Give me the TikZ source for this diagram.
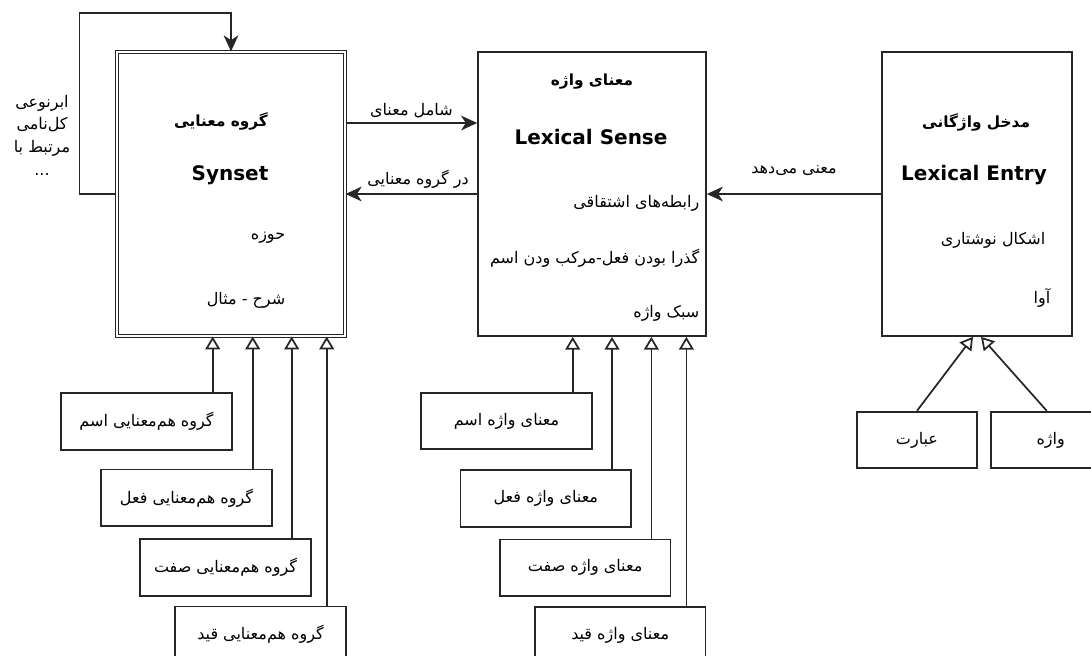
\documentclass[tikz,border=0pt]{standalone}
\usepackage{fontspec}
\setmainfont{DejaVu Sans}
\newfontfamily\fa[Script=Arabic]{DejaVu Sans}
\TeXXeTstate=1
\usetikzlibrary{arrows.meta, positioning}
\newcommand{\fatxt}[1]{{\fa\beginR #1\endR}}
\tikzstyle{entity} = [rectangle, draw=black!85, line width=1.3pt, minimum width=171pt, minimum height=213pt]
\tikzstyle{kind} = [rectangle, draw=black!85, line width=1.3pt, minimum width=128pt, minimum height=42.5pt, font=\fontsize{12}{14}\selectfont]
\tikzstyle{title} = [font=\fontsize{15}{18}\selectfont\bfseries]
\tikzstyle{fatitle} = [font=\fontsize{11.5}{14}\selectfont\bfseries]
\tikzstyle{attr} = [font=\fontsize{12}{14}\selectfont]
\tikzstyle{arrow} = [line width=1.3pt, draw=black!85, -{Stealth[length=12pt,width=11pt,inset=3.5pt]}]
\tikzstyle{inherit} = [line width=1.3pt, draw=black!85, -{Triangle[open,length=9.5pt,width=11pt]}]

\begin{document}
\begin{tikzpicture}[x=0.75pt, y=-0.75pt]
    \clip (0,0) rectangle (1091,656);
    % main classes
    \node (synset) [entity, double, double distance=1pt, line width=0.9pt] at (231,194) {};
    \node (sense) [entity] at (592,194) {};
    \node (entry) [entity, minimum width=142.5pt] at (977,194) {};

    \node (synsetfa) [fatitle] at (221,121) {\fatxt{گروه معنایی}};
    \node (synseten) [title] at (230,175) {Synset};
    \node (domain) [attr] at (268,238) {\fatxt{حوزه}};
    \node (gloss) [attr] at (246,300) {\fatxt{شرح - مثال}};

    \node (sensefa) [fatitle] at (592,82) {\fatxt{معنای واژه}};
    \node (senseen) [title] at (591,137) {Lexical Sense};
    \node (deriv) [attr, anchor=east] at (704,203) {\fatxt{رابطه‌های اشتقاقی}};
    \node (trans) [attr, anchor=east] at (704,258) {\fatxt{گذرا بودن فعل-مرکب ودن اسم}};
    \node (register) [attr, anchor=east] at (704,313) {\fatxt{سبک واژه}};

    \node (entryfa) [fatitle] at (976,122) {\fatxt{مدخل واژگانی}};
    \node (entryen) [title] at (974,175) {Lexical Entry};
    \node (forms) [attr] at (993,240) {\fatxt{اشکال نوشتاری}};
    \node (phon) [attr] at (1042,298) {\fatxt{آوا}};

    \node (loopnote) [attr, align=center, font=\fontsize{12}{17}\selectfont] at (42,135) {\fatxt{ابرنوعی}\\ \fatxt{کل‌نامی}\\ \fatxt{مرتبط با}\\ ...};
    \coordinate (looptop) at (231,13);

    % synset kinds
    \node (snoun) [kind] at (146.5,421.5) {\fatxt{گروه هم‌معنایی اسم}};
    \node (sverb) [kind, below=13.5pt of snoun, xshift=30pt] {\fatxt{گروه هم‌معنایی فعل}};
    \node (sadj) [kind, below=8.25pt of sverb, xshift=29.25pt] {\fatxt{گروه هم‌معنایی صفت}};
    \node (sadv) [kind, below=6.75pt of sadj, xshift=26.25pt] {\fatxt{گروه هم‌معنایی قید}};

    % sense kinds
    \node (mnoun) [kind] at (506.5,421) {\fatxt{معنای واژه اسم}};
    \node (mverb) [kind, below=14.25pt of mnoun, xshift=29.5pt] {\fatxt{معنای واژه فعل}};
    \node (madj) [kind, below=8.25pt of mverb, xshift=29.5pt] {\fatxt{معنای واژه صفت}};
    \node (madv) [kind, below=6.75pt of madj, xshift=26.25pt] {\fatxt{معنای واژه قید}};

    % entry kinds
    \node (phrase) [kind, minimum width=90pt] at (917,440) {\fatxt{عبارت}};
    \node (word) [kind, minimum width=90pt, right=9pt of phrase] {\fatxt{واژه}};

    \draw [arrow] ([yshift=53.25pt]synset.east) -- node[attr, above] {\fatxt{شامل معنای}} ([yshift=53.25pt]sense.west);
    \draw [arrow] (sense.west) -- node[attr, above, xshift=5pt] {\fatxt{در گروه معنایی}} (synset.east);
    \draw [arrow] (entry.west) -- node[attr, above=10pt] {\fatxt{معنی می‌دهد}} (sense.east);
    \draw [arrow] (synset.west) -- ++(-37,0) |- (looptop) -- (synset.north);

    \draw [inherit] ([xshift=-15pt]snoun.north east) -- ([xshift=-15pt]snoun.north east |- synset.south);
    \draw [inherit] ([xshift=-15pt]sverb.north east) -- ([xshift=-15pt]sverb.north east |- synset.south);
    \draw [inherit] ([xshift=-15pt]sadj.north east) -- ([xshift=-15pt]sadj.north east |- synset.south);
    \draw [inherit] ([xshift=-15pt]sadv.north east) -- ([xshift=-15pt]sadv.north east |- synset.south);

    \draw [inherit] ([xshift=-15pt]mnoun.north east) -- ([xshift=-15pt]mnoun.north east |- sense.south);
    \draw [inherit] ([xshift=-15pt]mverb.north east) -- ([xshift=-15pt]mverb.north east |- sense.south);
    \draw [inherit] ([xshift=-15pt]madj.north east) -- ([xshift=-15pt]madj.north east |- sense.south);
    \draw [inherit] ([xshift=-15pt]madv.north east) -- ([xshift=-15pt]madv.north east |- sense.south);

    \draw [inherit] (phrase.north) -- ([xshift=-3pt]entry.south);
    \draw [inherit] ([xshift=-3pt]word.north) -- ([xshift=3pt]entry.south);
\end{tikzpicture}
\end{document}
